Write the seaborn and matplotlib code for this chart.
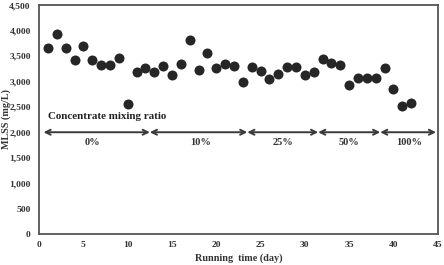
import seaborn as sns
import pandas as pd
import matplotlib.pyplot as plt
from matplotlib.ticker import FuncFormatter

days = list(range(1, 43))
mlss = [3650, 3930, 3650, 3410, 3700, 3420, 3320, 3320, 3465, 2550,
        3175, 3255, 3190, 3310, 3125, 3340, 3810, 3220, 3560, 3255,
        3340, 3310, 2980, 3290, 3200, 3040, 3145, 3290, 3290, 3125,
        3175, 3440, 3370, 3320, 2930, 3060, 3070, 3060, 3270, 2855,
        2515, 2580]

phase_labels = ["0%", "10%", "25%", "50%", "100%"]
phase_bounds = [0.5, 12.5, 23.5, 31.5, 38.5, 44.8]
phase_label_x = [6.0, 18.2, 27.5, 35.0, 41.8]

df = pd.DataFrame({"day": days, "MLSS": mlss})

sns.set_style("white")
plt.rcParams['font.family'] = ['Liberation Serif', 'DejaVu Serif']
plt.rcParams['font.weight'] = 'bold'

fig = plt.figure(figsize=(4.44, 2.65), dpi=100)
ax = fig.add_axes([0.088, 0.117, 0.898, 0.864])

sns.scatterplot(data=df, x="day", y="MLSS", ax=ax, s=52, color="#262626",
                edgecolor="#262626", linewidth=0, zorder=3)

for i in range(len(phase_labels)):
    ax.annotate("", xy=(phase_bounds[i], 2000), xytext=(phase_bounds[i + 1], 2000),
                arrowprops=dict(arrowstyle="<->", color="#3a3a3a", lw=1.4,
                                shrinkA=0, shrinkB=0, mutation_scale=9))
    ax.text(phase_label_x[i], 1790, phase_labels[i], ha="center", va="center",
            fontsize=7.5, fontweight="bold", color="#333333")

ax.text(1.0, 2310, "Concentrate mixing ratio", ha="left", va="center",
        fontsize=7.9, fontweight="bold", color="#222222")

ax.set_xlim(0, 45)
ax.set_ylim(0, 4500)
ax.set_xticks(range(0, 46, 5))
ax.set_yticks(range(0, 4501, 500))
ax.yaxis.set_major_formatter(FuncFormatter(lambda v, p: f"{int(v):,}"))
ax.tick_params(direction="in", length=2, labelsize=6.8, colors="#333333")
ax.tick_params(axis="x", pad=5)
ax.tick_params(axis="y", pad=6)
ax.set_xlabel("Running  time (day)", fontsize=7.3, fontweight="bold", color="#333333", labelpad=3)
ax.set_ylabel("")
fig.text(6.5 / 444, 0.55, "MLSS (mg/L)", rotation=90, ha="center", va="center",
         fontsize=7.3, fontweight="bold", color="#333333")
for sp in ax.spines.values():
    sp.set_color("#555555")
    sp.set_linewidth(1.3)

fig.savefig("out.png", dpi=100)
